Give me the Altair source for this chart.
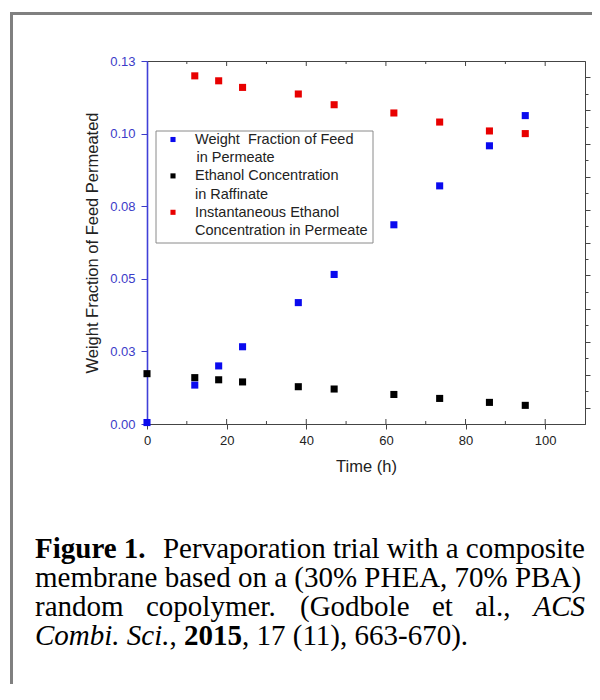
import altair as alt
import pandas as pd

# ---------------- data ----------------
time_h = [0, 12, 18, 24, 38, 47, 62, 73.5, 86, 95]
feed_fraction = [0.0005, 0.0134, 0.0200, 0.0266, 0.0418, 0.0515, 0.0686, 0.0820, 0.0958, 0.1062]
ethanol_raffinate = [10.05, 9.81, 9.68, 9.55, 9.26, 9.12, 8.79, 8.55, 8.31, 8.13]
permeate_time_h = [12, 18, 24, 38, 47, 62, 73.5, 86, 95]
ethanol_permeate = [28.1, 27.8, 27.4, 27.0, 26.35, 25.85, 25.3, 24.76, 24.6]

series_names = ["feed", "raffinate", "permeate"]
series_colors = ["#0a0aee", "#000000", "#e80000"]
legend_lines = [
    ["Weight\u00a0 Fraction of Feed", "in Permeate"],
    ["Ethanol Concentration", "in Raffinate"],
    ["Instantaneous Ethanol", "Concentration in Permeate"],
]

x_ticks = [0, 10, 20, 30, 40, 50, 60, 70, 80, 90, 100, 110]
left_ticks = [0, 0.025, 0.05, 0.075, 0.1, 0.125]
left_tick_labels = ["0.00", "0.03", "0.05", "0.08", "0.10", "0.13"]
right_ticks = list(range(8, 29))

x_title = "Time (h)"
y_title = "Weight Fraction of Feed Permeated"

caption_segments = [
    # (line, text, weight, style)
    (0, "Figure 1.", "bold", "normal"),
    (0, "Pervaporation trial with a composite", "normal", "normal"),
    (1, "membrane based on a (30% PHEA, 70% PBA)", "normal", "normal"),
    (2, "random", "normal", "normal"),
    (2, "copolymer.", "normal", "normal"),
    (2, "(Godbole", "normal", "normal"),
    (2, "et", "normal", "normal"),
    (2, "al.,", "normal", "normal"),
    (2, "ACS", "normal", "italic"),
    (3, "Combi. Sci.", "normal", "italic"),
    (3, ",", "normal", "normal"),
    (3, "2015", "bold", "normal"),
    (3, ", 17 (11), 663-670).", "normal", "normal"),
]

# ---------------- layout (page px -> plot px) ----------------
PX0, PY0 = 147, 61          # page position of plot origin
W, H = 438, 363
SVG_W, SVG_H = 584, 676
seg_x = [35, 585, 35, 35, 146, 300, 432, 475, 585, 35, 169.5, 184, 242]
seg_align = ["left", "right", "left", "left", "left", "left", "left", "left", "right",
             "left", "left", "left", "left"]
line_base = [558, 587, 616, 645]

sans = "Liberation Sans"
serif = "Liberation Serif"

color_scale = alt.Scale(domain=series_names, range=series_colors)
xscale = alt.Scale(domain=[0, 110], nice=False)

feed_df = pd.DataFrame({"t": time_h, "v": feed_fraction, "s": "feed"})
conc_df = pd.concat([
    pd.DataFrame({"t": time_h, "v": ethanol_raffinate, "s": "raffinate"}),
    pd.DataFrame({"t": permeate_time_h, "v": ethanol_permeate, "s": "permeate"}),
])

blue = alt.Chart(feed_df).mark_square(size=50, opacity=1).encode(
    x=alt.X("t:Q", scale=xscale, title=x_title,
            axis=alt.Axis(values=x_ticks, labelExpr="datum.value % 20 == 0 && datum.value <= 100 ? datum.label : ''",
                          tickSize={"condition": {"test": "datum.value % 20 == 0", "value": 5}, "value": 0},
                          labelFont=sans, labelFontSize=13, labelColor="#222", labelPadding=5,
                          titleFont=sans, titleFontSize=16.5, titleFontWeight="normal", titleColor="#222",
                          titlePadding=11, domainColor="#444", tickColor="#444", grid=False, labelFlush=False)),
    y=alt.Y("v:Q", scale=alt.Scale(domain=[0, 0.125], nice=False), title=y_title,
            axis=alt.Axis(values=left_ticks,
                          labelExpr="[" + ",".join("'%s'" % s for s in left_tick_labels) + "][round(datum.value / 0.025)]",
                          labelFont=sans, labelFontSize=13, labelColor="#3b3bc8", labelPadding=6,
                          tickSize=6, tickColor="#3b3bc8", domainColor="#4040d8", domainWidth=1.6,
                          titleFont=sans, titleFontSize=16.5, titleFontWeight="normal", titleColor="#222",
                          titlePadding=9, grid=False)),
    color=alt.Color("s:N", scale=color_scale, legend=None),
)

conc = alt.Chart(conc_df).mark_square(size=50, opacity=1).encode(
    x=alt.X("t:Q", scale=xscale),
    y=alt.Y("v:Q", scale=alt.Scale(domain=[7, 29], nice=False),
            axis=alt.Axis(orient="right", values=right_ticks, title=None,
                          labelExpr="datum.value % 2 == 0 ? substring(datum.label, 0, 1) : ''",
                          tickSize={"condition": {"test": "datum.value % 2 == 0", "value": 5}, "value": 3},
                          labelFont=sans, labelFontSize=14, labelColor="#222", labelPadding=2,
                          tickColor="#444", domainColor="#444", grid=False)),
    color=alt.Color("s:N", scale=color_scale, legend=None),
)

# inward tick marks on top and bottom borders
major_x = [v for v in x_ticks[1:-1] if v % 20 == 0]
minor_x = [v for v in x_ticks[1:-1] if v % 20 != 0]
tick_rules = []
for vals, ln in ((major_x, 5), (minor_x, 3)):
    d = pd.DataFrame({"t": vals})
    tick_rules.append(alt.Chart(d).mark_rule(color="#444").encode(
        x=alt.X("t:Q", scale=xscale), y=alt.value(0), y2=alt.value(ln)))
    tick_rules.append(alt.Chart(d).mark_rule(color="#444").encode(
        x=alt.X("t:Q", scale=xscale), y=alt.value(H - ln), y2=alt.value(H)))

# frame around the whole figure
one = pd.DataFrame({"a": [0]})
fx, fy = 11.5 - PX0, 13.5 - PY0
frame = [
    alt.Chart(one).mark_rule(color="#808080", strokeWidth=3).encode(
        x=alt.value(fx), x2=alt.value(600), y=alt.value(fy)),
    alt.Chart(one).mark_rule(color="#808080", strokeWidth=3).encode(
        x=alt.value(fx), y=alt.value(fy - 1.5), y2=alt.value(800)),
]

# legend box
lb = [156 - PX0, 131 - PY0, 373 - PX0, 243 - PY0]
legend_box = alt.Chart(one).mark_rect(fill="white", stroke="#8a8a8a", strokeWidth=1).encode(
    x=alt.value(lb[0]), x2=alt.value(lb[2]), y=alt.value(lb[1]), y2=alt.value(lb[3]))
sym_rows, txt_rows = [], []
for i, (name, lines) in enumerate(zip(series_names, legend_lines)):
    top = 140 - PY0 + i * 36.4
    sym_rows.append({"s": name, "px": 173 - PX0, "py": top - 0.5})
    for j, ln in enumerate(lines):
        txt_rows.append({"txt": ln, "px": 195 - PX0 + (1.5 if i == 0 and j == 1 else 0),
                         "py": top + j * 18.2})
legend_sym = alt.Chart(pd.DataFrame(sym_rows)).mark_square(size=26, opacity=1).encode(
    x=alt.X("px:Q", scale=None), y=alt.Y("py:Q", scale=None),
    color=alt.Color("s:N", scale=color_scale, legend=None))
legend_txt = alt.Chart(pd.DataFrame(txt_rows)).mark_text(
    align="left", baseline="middle", font=sans, fontSize=14.5, color="#222").encode(
    x=alt.X("px:Q", scale=None), y=alt.Y("py:Q", scale=None), text="txt:N")

# caption
cap_rows = []
for (ln, txt, wt, st), sx, al in zip(caption_segments, seg_x, seg_align):
    cap_rows.append({"txt": txt, "w": wt, "st": st, "al": al,
                     "px": sx - PX0, "py": line_base[ln] - PY0})
cap_df = pd.DataFrame(cap_rows)
caption = []
for (wt, st, al), g in cap_df.groupby(["w", "st", "al"]):
    caption.append(alt.Chart(g).mark_text(
        align=al, baseline="alphabetic", font=serif, fontSize=29, fontWeight=wt,
        fontStyle=st, color="#000").encode(
        x=alt.X("px:Q", scale=None), y=alt.Y("py:Q", scale=None), text="txt:N"))

chart = alt.layer(
    *frame, blue, conc, *tick_rules, legend_box, legend_sym, legend_txt, *caption
).resolve_scale(y="independent", color="shared").properties(
    width=W, height=H,
    padding={"left": PX0 - 8, "top": PY0 - 8, "right": SVG_W - (PX0 - 8) - W,
             "bottom": SVG_H - (PY0 - 8) - H},
    autosize=alt.AutoSizeParams(type="none"),
    background="white",
).configure_view(stroke="#444", strokeWidth=1)

chart.save("out.html", embed_options={"renderer": "svg", "actions": False})
